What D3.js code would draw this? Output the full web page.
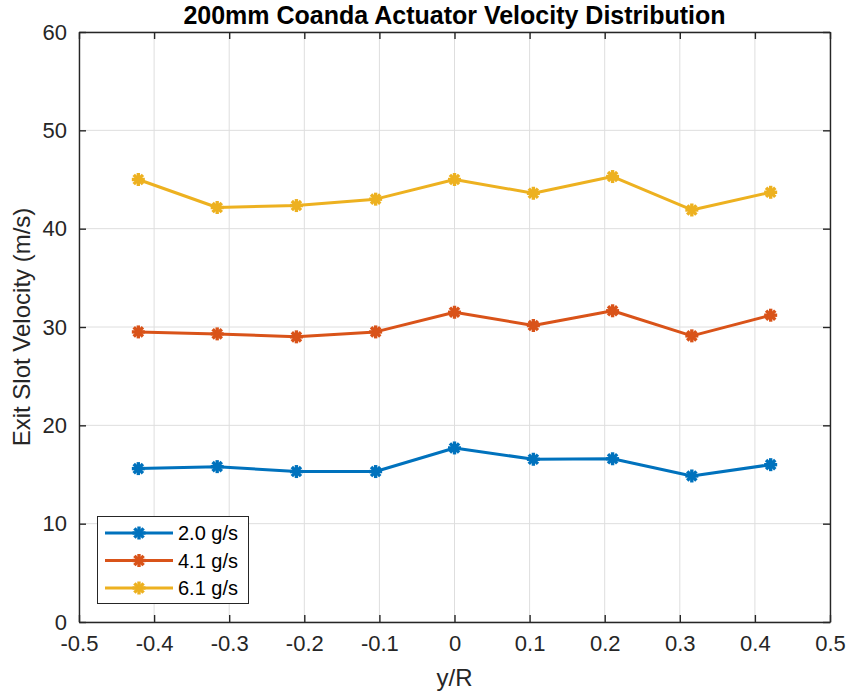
<!DOCTYPE html>
<html>
<head>
<meta charset="utf-8">
<script src="https://cdn.jsdelivr.net/npm/d3@7"></script>
<style>
  body { margin: 0; background: #fff; }
  svg { display: block; font-family: "Liberation Sans", Arial, sans-serif; }
</style>
</head>
<body>
<svg width="848" height="696"></svg>
<script>
// positions along the slot (y/R)
const yR = [-0.421, -0.316, -0.2105, -0.105, 0, 0.105, 0.2105, 0.316, 0.421];
// velocities for each mass flow rate
const v20 = [15.6, 15.8, 15.3, 15.3, 17.7, 16.55, 16.6, 14.85, 16.0];
const v41 = [29.5, 29.3, 29.0, 29.5, 31.5, 30.15, 31.65, 29.1, 31.2];
const v61 = [45.0, 42.15, 42.35, 43.0, 45.0, 43.6, 45.3, 41.9, 43.7];
const seriesNames = ['2.0 g/s', '4.1 g/s', '6.1 g/s'];
const xTicks = [-0.5, -0.4, -0.3, -0.2, -0.1, 0, 0.1, 0.2, 0.3, 0.4, 0.5];
const yTicks = [0, 10, 20, 30, 40, 50, 60];

const colors = ['#0072BD', '#D95319', '#EDB120'];
const ink = '#262626';

const m = {left: 79, right: 830, top: 32, bottom: 622};
const svg = d3.select('svg');

const x = d3.scaleLinear().domain([-0.5, 0.5]).range([m.left, m.right]);
const y = d3.scaleLinear().domain([0, 60]).range([m.bottom, m.top]);

// grid
const grid = svg.append('g').attr('stroke', '#dedede').attr('stroke-width', 1);
grid.selectAll('line.gx').data(xTicks).enter().append('line')
    .attr('x1', d => x(d)).attr('x2', d => x(d))
    .attr('y1', m.top).attr('y2', m.bottom);
grid.selectAll('line.gy').data(yTicks).enter().append('line')
    .attr('y1', d => y(d)).attr('y2', d => y(d))
    .attr('x1', m.left).attr('x2', m.right);

// axes (ticks inward, box all round) - plain hyphen for negatives like matlab
const fmt = d => String(+d.toFixed(1));
svg.append('g').attr('transform', 'translate(0,' + m.bottom + ')')
    .call(d3.axisBottom(x).tickValues(xTicks).tickFormat(fmt).tickSizeInner(-7).tickSizeOuter(0).tickPadding(13));
svg.append('g').attr('transform', 'translate(0,' + m.top + ')')
    .call(d3.axisTop(x).tickValues(xTicks).tickFormat('').tickSizeInner(-7).tickSizeOuter(0));
svg.append('g').attr('transform', 'translate(' + m.left + ',0)')
    .call(d3.axisLeft(y).tickValues(yTicks).tickSizeInner(-7).tickSizeOuter(0).tickPadding(12));
svg.append('g').attr('transform', 'translate(' + m.right + ',0)')
    .call(d3.axisRight(y).tickValues(yTicks).tickFormat('').tickSizeInner(-7).tickSizeOuter(0));

svg.selectAll('.domain').attr('stroke', ink).attr('stroke-width', 1.4);
svg.selectAll('.tick line').attr('stroke', ink).attr('stroke-width', 1.4);
svg.selectAll('.tick text').attr('fill', ink).style('font-size', '22px')
    .style('font-family', '"Liberation Sans", Arial, sans-serif');

// titles
svg.append('text').attr('x', (m.left + m.right) / 2).attr('y', 24)
    .attr('text-anchor', 'middle').attr('font-weight', 'bold').attr('font-size', 25)
    .attr('fill', '#000').text('200mm Coanda Actuator Velocity Distribution');
svg.append('text').attr('x', (m.left + m.right) / 2).attr('y', 686)
    .attr('text-anchor', 'middle').attr('font-size', 24).attr('fill', ink).text('y/R');
svg.append('text').attr('transform', 'translate(30,' + (m.top + m.bottom) / 2 + ') rotate(-90)')
    .attr('text-anchor', 'middle').attr('font-size', 24).attr('fill', ink).text('Exit Slot Velocity (m/s)');

// asterisk marker
function star(g, cx, cy, col) {
    const r = 6.5;
    [0, 45, 90, 135].forEach(a => {
        const t = a * Math.PI / 180;
        g.append('line')
            .attr('x1', cx - r * Math.cos(t)).attr('y1', cy - r * Math.sin(t))
            .attr('x2', cx + r * Math.cos(t)).attr('y2', cy + r * Math.sin(t))
            .attr('stroke', col).attr('stroke-width', 3.4);
    });
}

const line = d3.line().x(d => x(d[0])).y(d => y(d[1]));
[v20, v41, v61].forEach((vals, i) => {
    const pts = yR.map((p, k) => [p, vals[k]]);
    const g = svg.append('g');
    g.append('path').datum(pts).attr('d', line)
        .attr('fill', 'none').attr('stroke', colors[i]).attr('stroke-width', 3)
        .attr('stroke-linejoin', 'round');
    pts.forEach(p => star(g, x(p[0]), y(p[1]), colors[i]));
});

// legend
const lg = svg.append('g');
lg.append('rect').attr('x', 97.5).attr('y', 516.5).attr('width', 151).attr('height', 87)
    .attr('fill', '#fff').attr('stroke', ink).attr('stroke-width', 1);
seriesNames.forEach((name, i) => {
    const ly = 533 + i * 27.5;
    lg.append('line').attr('x1', 105).attr('x2', 173).attr('y1', ly).attr('y2', ly)
        .attr('stroke', colors[i]).attr('stroke-width', 3);
    star(lg, 139, ly, colors[i]);
    lg.append('text').attr('x', 178).attr('y', ly + 7).attr('font-size', 20)
        .attr('fill', '#000').text(name);
});
</script>
</body>
</html>
